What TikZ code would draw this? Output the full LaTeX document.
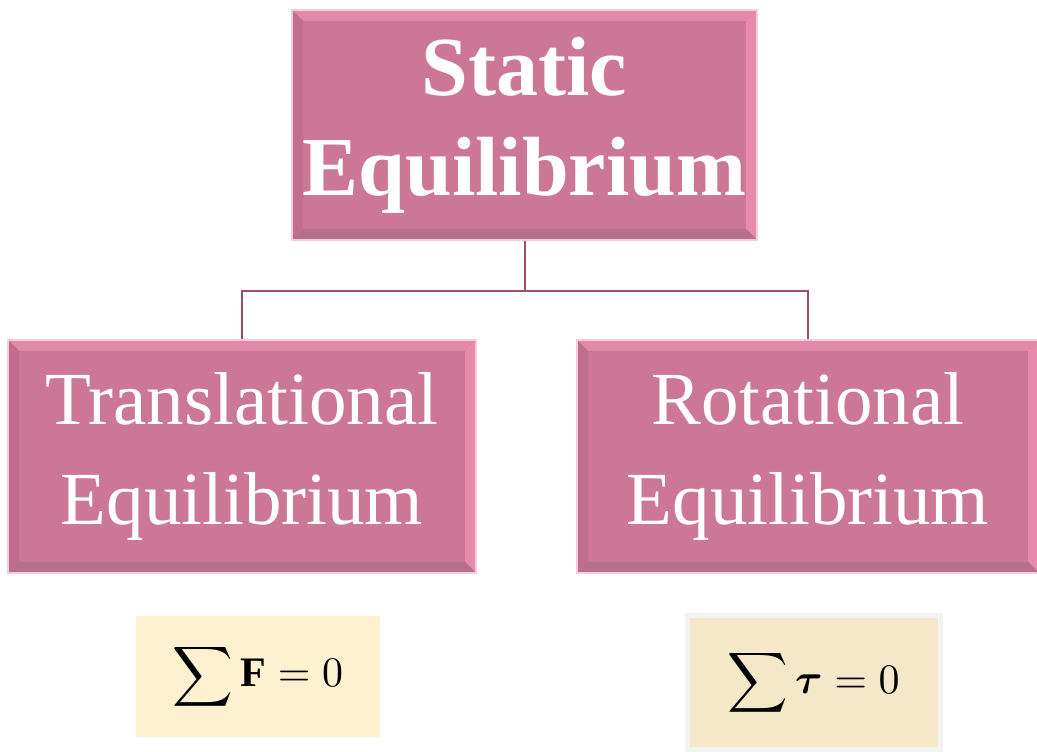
\documentclass[tikz,border=0pt]{standalone}
\usepackage{amsmath}
\usepackage{fontspec}
\setmainfont{Liberation Serif}
\usetikzlibrary{calc,positioning}
\definecolor{eqMauve}{HTML}{CC7796}
\definecolor{eqBevTop}{HTML}{E288A8}
\definecolor{eqBevRight}{HTML}{E78AAC}
\definecolor{eqBevBottom}{HTML}{B5708C}
\definecolor{eqBevLeft}{HTML}{C16E8E}
\definecolor{eqGlow}{HTML}{F6CCDA}
\definecolor{eqLink}{HTML}{A04C6E}
\definecolor{eqCreamA}{HTML}{FDF1D0}
\definecolor{eqCreamB}{HTML}{F4E8C8}
\definecolor{eqFrame}{HTML}{F3F3F3}
\tikzset{
  eq/bevel/.style={fill=eqMauve, draw=eqGlow, line width=1.5pt,
    inner sep=0pt, align=center, text=white,
    path picture={
      \fill[eqBevTop] (path picture bounding box.north west)
        -- (path picture bounding box.north east)
        -- ($(path picture bounding box.north east)+(-11,-11)$)
        -- ($(path picture bounding box.north west)+(11,-11)$) -- cycle;
      \fill[eqBevRight] (path picture bounding box.north east)
        -- (path picture bounding box.south east)
        -- ($(path picture bounding box.south east)+(-11,11)$)
        -- ($(path picture bounding box.north east)+(-11,-11)$) -- cycle;
      \fill[eqBevBottom] (path picture bounding box.south east)
        -- (path picture bounding box.south west)
        -- ($(path picture bounding box.south west)+(11,11)$)
        -- ($(path picture bounding box.south east)+(-11,11)$) -- cycle;
      \fill[eqBevLeft] (path picture bounding box.south west)
        -- (path picture bounding box.north west)
        -- ($(path picture bounding box.north west)+(11,-11)$)
        -- ($(path picture bounding box.south west)+(11,11)$) -- cycle;
    }},
  eq/main/.style={eq/bevel, minimum width=465pt, minimum height=230pt,
    font=\fontsize{84}{100}\selectfont\bfseries},
  eq/kind/.style={eq/bevel, minimum height=233pt,
    font=\fontsize{75}{100}\selectfont},
  eq/law/.style={inner sep=0pt, text=black},
  eq/link/.style={draw=eqLink, line width=2pt},
}

\begin{document}
\begin{tikzpicture}[x=1pt, y=1pt]
\useasboundingbox (0,0) rectangle (1037,752);

% three concept boxes
\node[eq/main] (static) at (524.5,627) {Static\\Equilibrium};
\node[eq/kind, minimum width=468pt] (transl) at (242,295.5)
  {Translational\\Equilibrium};
\node[eq/kind, minimum width=462pt] (rotat) at (808,295.5)
  {Rotational\\Equilibrium};

% tree connector
\coordinate (split) at ($(static.south)+(0,-50)$);
\draw[eq/link] (static.south) -- (split) -| (transl.north);
\draw[eq/link] (split) -| (rotat.north);

% conditions
\node[eq/law, fill=eqCreamA, minimum width=244pt, minimum height=121pt]
  (sumF) at (258,75.5) {\scalebox{4.2}{$\displaystyle\sum\mathbf{F}=0$}};
\node[eq/law, fill=eqCreamB, draw=eqFrame, line width=5pt,
  minimum width=253pt, minimum height=134pt]
  (sumT) at (813.5,69) {\scalebox{4.2}{$\displaystyle\sum\boldsymbol{\tau}=0$}};
\end{tikzpicture}
\end{document}
